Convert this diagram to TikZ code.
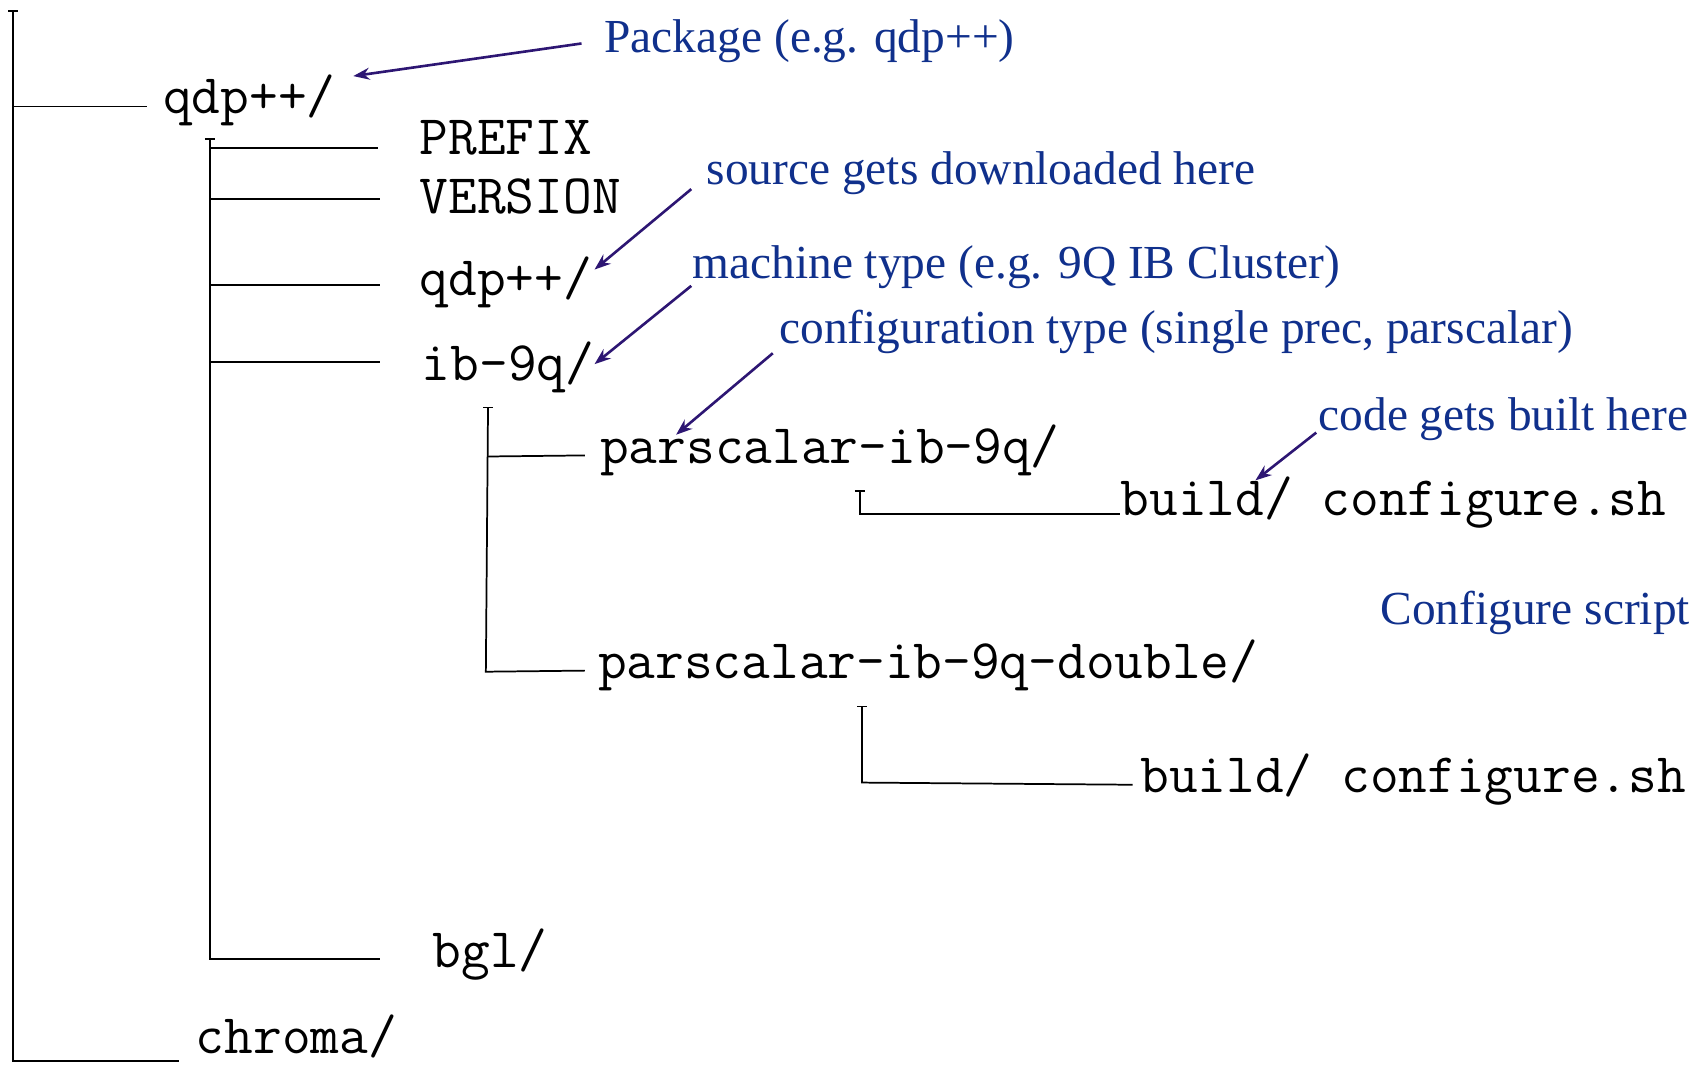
\documentclass[tikz,border=0pt]{standalone}
\usepackage{fontspec}
\newfontfamily\annfont{Liberation Serif}
\usetikzlibrary{arrows.meta}
\definecolor{annblue}{RGB}{16,48,140}
\definecolor{arrowc}{RGB}{45,22,115}
\begin{document}
\begin{tikzpicture}[x=1pt,y=-1pt,
 tree/.style={line width=1.6pt, black},
 dir/.style={inner sep=0pt, anchor=base west, font=\fontsize{51.3}{52}\selectfont\ttfamily},
 ann/.style={inner sep=0pt, anchor=base west, text=annblue, font=\fontsize{43.6}{46}\selectfont\annfont},
 pointer/.style={line width=2.4pt, arrowc, -{Stealth[length=15pt,width=11pt]}}]
\useasboundingbox (0,0) rectangle (1565,981);
% directory names
\node[dir] (qdp) at (150,104) {qdp++/};
\node[dir] (prefix) at (386,142) {PREFIX};
\node[dir] (version) at (386,196) {VERSION};
\node[dir] (qdpsrc) at (386,272) {qdp++/};
\node[dir] (ib) at (388,350) {ib-9q/};
\node[dir] (ps) at (552,426) {parscalar-ib-9q/};
\node[dir] (b1) at (1031,474) {build/ configure.sh};
\node[dir] (psd) at (550,624) {parscalar-ib-9q-double/};
\node[dir] (b2) at (1049,729) {build/ configure.sh};
\node[dir] (bgl) at (398,890) {bgl/};
\node[dir] (chroma) at (180,969) {chroma/};
% annotations
\node[ann] (aPkg) at (556,48) {Package (e.g. qdp++)};
\node[ann] (aSrc) at (650,170) {source gets downloaded here};
\node[ann] (aMach) at (637,256) {machine type (e.g. 9Q IB Cluster)};
\node[ann] (aConf) at (717,316) {configuration type (single prec, parscalar)};
\node[ann] (aCode) at (1213,396) {code gets built here};
\node[ann] (aScr) at (1270,575) {Configure script};
% tree coordinates
\coordinate (r0) at (12,10);
\coordinate (rq) at (12,98);
\coordinate (rc) at (12,976);
\coordinate (qdpL) at (135,98);
\coordinate (chL) at (165,976);
\coordinate (s0) at (193,128);
\coordinate (s1) at (193,136);
\coordinate (s2) at (193,183);
\coordinate (s3) at (193,262);
\coordinate (s4) at (193,333);
\coordinate (s5) at (193,882);
\coordinate (prefixL) at (348,136);
\coordinate (versionL) at (350,183);
\coordinate (qdpsrcL) at (350,262);
\coordinate (ibL) at (350,333);
\coordinate (bglL) at (350,882);
\coordinate (t0) at (449,375);
\coordinate (t1) at (449,420);
\coordinate (t2) at (447,618);
\coordinate (psL) at (538,419);
\coordinate (psdL) at (538,617);
\coordinate (u0) at (791,452);
\coordinate (u1) at (791,473);
\coordinate (b1L) at (1030,473);
\coordinate (v0) at (793,650);
\coordinate (v1) at (793,720);
\coordinate (b2L) at (1042,722);
% tree lines
\draw[tree] ([xshift=-4.5pt]r0) -- ([xshift=4.5pt]r0);
\draw[tree] (r0) -- (rc) -- (chL);
\draw[tree] (rq) -- (qdpL);
\draw[tree] ([xshift=-4.5pt]s0) -- ([xshift=4.5pt]s0);
\draw[tree] (s0) -- (s5) -- (bglL);
\draw[tree] (s1) -- (prefixL);
\draw[tree] (s2) -- (versionL);
\draw[tree] (s3) -- (qdpsrcL);
\draw[tree] (s4) -- (ibL);
\draw[tree] ([xshift=-4.5pt]t0) -- ([xshift=4.5pt]t0);
\draw[tree] (t0) -- (t2) -- (psdL);
\draw[tree] (t1) -- (psL);
\draw[tree] ([xshift=-4.5pt]u0) -- ([xshift=4.5pt]u0);
\draw[tree] (u0) -- (u1) -- (b1L);
\draw[tree] ([xshift=-4.5pt]v0) -- ([xshift=4.5pt]v0);
\draw[tree] (v0) -- (v1) -- (b2L);
% arrows
\coordinate (pA) at (535,40);   \coordinate (pB) at (325,70);
\coordinate (sA) at (636,174);  \coordinate (sB) at (547,248);
\coordinate (mA) at (636,263);  \coordinate (mB) at (547,335);
\coordinate (cA) at (711,325);  \coordinate (cB) at (622,400);
\coordinate (kA) at (1211,398); \coordinate (kB) at (1155,442);
\draw[pointer] (pA) -- (pB);
\draw[pointer] (sA) -- (sB);
\draw[pointer] (mA) -- (mB);
\draw[pointer] (cA) -- (cB);
\draw[pointer] (kA) -- (kB);
\end{tikzpicture}
\end{document}
